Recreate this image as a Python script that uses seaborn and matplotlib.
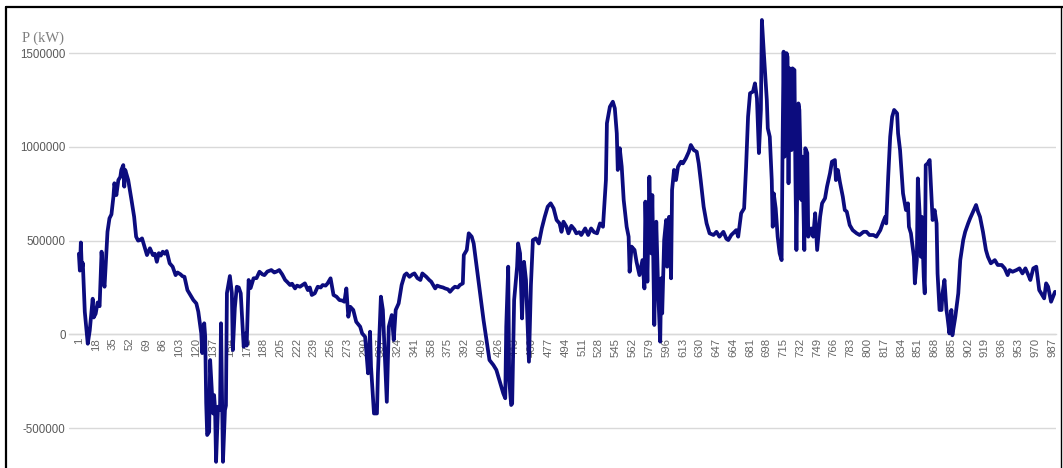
import matplotlib
matplotlib.use("Agg")
import matplotlib.pyplot as plt
import seaborn as sns
import pandas as pd
from matplotlib.lines import Line2D

# ---- data ----
sample_index = [
    1, 2, 3, 4, 5, 7, 10, 12, 15, 16, 18, 20, 22, 24, 26, 27, 30, 32, 34, 36, 37, 39, 41, 43, 44, 46, 47, 48,
    51, 54, 57, 59, 61, 63, 65, 67, 70, 73, 76, 78, 80, 82, 84, 86, 88, 90, 93, 96, 99, 101, 104, 106, 108,
    111, 114, 117, 120, 122, 125, 126, 128, 129, 130, 131, 133, 134, 136, 137, 138, 139, 140, 142, 144, 145,
    147, 149, 150, 151, 154, 156, 157, 159, 161, 163, 165, 168, 170, 171, 173, 175, 178, 181, 184, 187, 189,
    192, 196, 199, 201, 204, 207, 210, 212, 215, 217, 220, 222, 225, 228, 230, 233, 235, 237, 240, 243, 246,
    248, 251, 253, 256, 259, 262, 265, 268, 270, 272, 274, 276, 279, 282, 286, 288, 291, 292, 294, 296, 297,
    300, 303, 304, 307, 309, 313, 315, 318, 320, 322, 325, 328, 331, 333, 336, 339, 341, 344, 347, 349, 353,
    356, 358, 362, 364, 367, 370, 372, 375, 377, 380, 382, 385, 387, 390, 391, 394, 396, 399, 401, 404, 407,
    411, 414, 417, 421, 424, 428, 431, 433, 434, 436, 437, 439, 440, 442, 445, 446, 448, 450, 452, 454, 457,
    459, 461, 464, 467, 470, 473, 476, 479, 482, 485, 488, 490, 492, 495, 497, 500, 503, 505, 508, 510, 514,
    517, 520, 523, 526, 529, 532, 535, 536, 539, 542, 544, 546, 547, 549, 551, 553, 556, 558, 559, 561, 564,
    566, 569, 572, 574, 575, 577, 579, 581, 582, 584, 586, 588, 590, 591, 592, 594, 596, 597, 599, 601, 602,
    604, 606, 608, 611, 613, 616, 619, 621, 624, 627, 629, 631, 634, 637, 640, 644, 647, 650, 654, 657, 659,
    662, 665, 667, 669, 672, 675, 677, 679, 681, 684, 686, 688, 690, 692, 693, 695, 698, 699, 701, 703, 704,
    705, 707, 709, 711, 713, 714, 715, 716, 718, 719, 720, 721, 723, 724, 726, 727, 728, 730, 731, 733, 734,
    736, 737, 739, 740, 743, 745, 747, 749, 752, 754, 757, 759, 762, 764, 767, 768, 770, 772, 775, 777, 779,
    782, 785, 789, 792, 796, 799, 802, 806, 809, 813, 816, 818, 819, 821, 823, 825, 827, 830, 831, 833, 836,
    839, 841, 842, 844, 847, 848, 850, 851, 853, 854, 855, 857, 858, 859, 861, 863, 865, 866, 868, 870, 871,
    873, 875, 876, 878, 880, 881, 883, 885, 886, 889, 892, 894, 897, 899, 902, 904, 907, 910, 912, 914, 917,
    920, 922, 925, 929, 932, 936, 939, 942, 944, 947, 951, 954, 957, 960, 963, 965, 968, 971, 974, 976, 979,
    981, 983, 985, 986, 988, 990,
]

power_kw = [
    430000, 340000, 490000, 350000, 380000, 120000, -50000, 20000, 190000, 90000, 110000, 170000, 150000,
    441000, 280000, 254000, 547000, 619000, 640000, 734000, 806000, 743000, 823000, 840000, 877000, 903000,
    788000, 877000, 823000, 727000, 627000, 521000, 500000, 503000, 512000, 476000, 423000, 459000, 423000,
    430000, 387000, 433000, 420000, 441000, 430000, 444000, 379000, 361000, 316000, 330000, 320000, 310000,
    307000, 236000, 210000, 183000, 165000, 121000, 5000, -100000, 59000, -13000, -367000, -537000, -520000,
    -137000, -333000, -422000, -324000, -400000, -680000, -386000, -404000, 59000, -680000, -404000, -380000,
    220000, 311000, 220000, -84000, 140000, 254000, 250000, 219000, -66000, 5000, -60000, 290000, 247000,
    299000, 300000, 334000, 320000, 316000, 335000, 343000, 330000, 334000, 343000, 320000, 290000, 280000,
    263000, 270000, 245000, 260000, 254000, 265000, 272000, 236000, 250000, 210000, 219000, 254000, 250000,
    263000, 260000, 272000, 299000, 210000, 201000, 183000, 180000, 174000, 245000, 94000, 147000, 130000,
    67000, 41000, 5000, -13000, -75000, -208000, 14000, -173000, -422000, -422000, -208000, 201000, 130000,
    -360000, 41000, 103000, -30000, 130000, 165000, 263000, 316000, 325000, 307000, 320000, 325000, 300000,
    290000, 325000, 307000, 290000, 281000, 245000, 260000, 254000, 250000, 245000, 240000, 227000, 245000,
    254000, 250000, 263000, 272000, 423000, 450000, 539000, 521000, 485000, 361000, 236000, 76000, -30000,
    -137000, -164000, -190000, -261000, -315000, -341000, 41000, 361000, -244000, -377000, -370000, 183000,
    361000, 485000, 432000, 85000, 387000, 290000, -146000, 263000, 503000, 512000, 485000, 565000, 627000,
    681000, 699000, 672000, 610000, 592000, 547000, 601000, 574000, 539000, 579000, 560000, 539000, 545000,
    530000, 565000, 530000, 565000, 545000, 539000, 592000, 574000, 823000, 1126000, 1214000, 1241000,
    1206000, 1072000, 877000, 993000, 894000, 717000, 574000, 521000, 334000, 468000, 450000, 387000, 316000,
    396000, 245000, 708000, 281000, 841000, 432000, 743000, 50000, 601000, 219000, -39000, 299000, 112000,
    503000, 610000, 361000, 627000, 299000, 770000, 877000, 823000, 894000, 921000, 912000, 939000, 974000,
    1010000, 983000, 974000, 912000, 823000, 681000, 592000, 539000, 530000, 547000, 521000, 547000, 510000,
    503000, 530000, 545000, 556000, 521000, 646000, 672000, 894000, 1161000, 1286000, 1295000, 1339000,
    1259000, 967000, 1197000, 1677000, 1500000, 1250000, 1099000, 1054000, 823000, 574000, 752000, 672000,
    521000, 432000, 396000, 1019000, 1508000, 948000, 1500000, 1480000, 806000, 1419000, 983000, 1419000,
    1410000, 841000, 450000, 1232000, 1197000, 717000, 948000, 450000, 993000, 967000, 521000, 565000,
    521000, 646000, 450000, 627000, 699000, 726000, 788000, 859000, 921000, 930000, 823000, 877000, 814000,
    734000, 663000, 655000, 583000, 556000, 539000, 530000, 547000, 547000, 530000, 530000, 521000, 556000,
    601000, 627000, 592000, 841000, 1054000, 1161000, 1197000, 1179000, 1072000, 983000, 752000, 663000,
    699000, 574000, 539000, 414000, 272000, 396000, 832000, 627000, 414000, 627000, 307000, 219000, 903000,
    912000, 930000, 717000, 610000, 663000, 592000, 325000, 130000, 130000, 219000, 290000, 130000, 94000,
    5000, 130000, -5000, 94000, 219000, 396000, 503000, 547000, 592000, 619000, 654000, 690000, 654000,
    627000, 547000, 450000, 414000, 379000, 396000, 370000, 370000, 352000, 316000, 343000, 334000, 343000,
    352000, 325000, 352000, 316000, 290000, 352000, 361000, 236000, 219000, 192000, 272000, 254000, 201000,
    174000, 201000, 227000,
]

y_ticks = [-500000, 0, 500000, 1000000, 1500000]
x_tick_values = [1, 18, 35, 52, 69, 86, 103, 120, 137, 154, 171, 188, 205, 222, 239, 256, 273, 290, 307,
                 324, 341, 358, 375, 392, 409, 426, 443, 460, 477, 494, 511, 528, 545, 562, 579, 596, 613,
                 630, 647, 664, 681, 698, 715, 732, 749, 766, 783, 800, 817, 834, 851, 868, 885, 902, 919,
                 936, 953, 970, 987]
y_axis_title = "P (kW)"

df = pd.DataFrame({"index": sample_index, "power": power_kw})

sns.set_style("white")
plt.rcParams["font.family"] = ["Liberation Sans", "DejaVu Sans"]

W, H = 1063, 468
fig = plt.figure(figsize=(W / 100, H / 100), dpi=100)
fig.patch.set_facecolor("white")
ax = fig.add_axes([69 / W, 0, (1056 - 69) / W, 460 / H])
ax.set_facecolor("white")

sns.lineplot(data=df, x="index", y="power", ax=ax, estimator=None, sort=False,
             color="#0c0c7e", linewidth=2.7, zorder=3, solid_joinstyle="round",
             solid_capstyle="round")

ax.set_xlim(-9, 991)
ax.set_ylim(-713000, 1741000)

ax.set_yticks(y_ticks)
ax.set_yticklabels([str(v) for v in y_ticks])
ax.yaxis.grid(True, color="#d9d9d9", linewidth=1.0)
ax.xaxis.grid(False)
ax.set_axisbelow(True)

for s in ["left", "right", "top"]:
    ax.spines[s].set_visible(False)
ax.spines["bottom"].set_position(("data", 0))
ax.spines["bottom"].set_color("#d9d9d9")
ax.spines["bottom"].set_linewidth(1.0)
ax.spines["bottom"].set_zorder(1)

ax.set_xticks(x_tick_values)
ax.set_xticklabels([str(v) for v in x_tick_values], rotation=90)
ax.tick_params(axis="x", length=0, pad=2.5, labelsize=8.2, labelcolor="#666666")
ax.tick_params(axis="y", length=0, pad=2.5, labelsize=8.3, labelcolor="#595959")
ax.set_xlabel("")
ax.set_ylabel("")

fig.text(22 / W, 1 - 38 / H, y_axis_title, family=["Liberation Serif", "DejaVu Serif"],
         fontsize=10.5, color="#7f7f7f", ha="left", va="center")

# outer frame of the chart (cropped screenshot look)
fig.add_artist(Line2D([5.5 / W, 5.5 / W], [0, 1 - 7 / H], transform=fig.transFigure,
                      color="black", linewidth=1.6))
fig.add_artist(Line2D([5.5 / W, 1], [1 - 7 / H, 1 - 7 / H], transform=fig.transFigure,
                      color="black", linewidth=1.6))
fig.add_artist(Line2D([1061 / W, 1061 / W], [0, 1 - 7 / H], transform=fig.transFigure,
                      color="black", linewidth=1.0))

fig.savefig("out.png", dpi=100, facecolor="white")
